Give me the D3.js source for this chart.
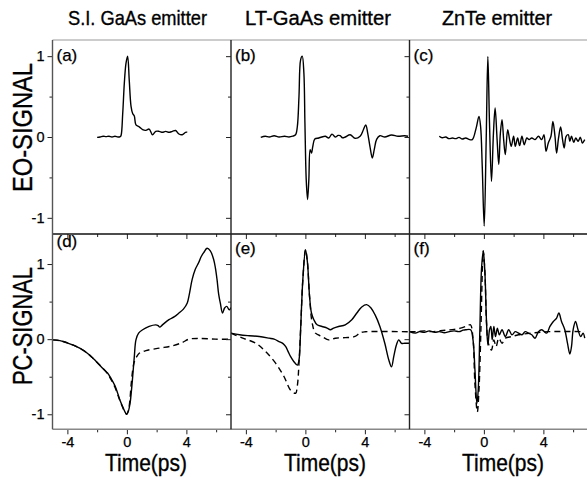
<!DOCTYPE html>
<html><head><meta charset="utf-8">
<script src="https://cdn.jsdelivr.net/npm/d3@7"></script>
<style>body{margin:0;background:#fff}text{font-family:"Liberation Sans",Arial,sans-serif;fill:#000}</style>
</head><body>
<svg id="c" width="587" height="481"></svg>
<script>
// ---------- data ----------
const emitters = ["S.I. GaAs emitter", "LT-GaAs emitter", "ZnTe emitter"];
const panelLabels = ["(a)", "(b)", "(c)", "(d)", "(e)", "(f)"];
const rowTitles = ["EO-SIGNAL", "PC-SIGNAL"];
const xTitle = "Time(ps)";
const xTickLabels = [-4, 0, 4];
const xAllTicks = [-4, -2, 0, 2, 4, 6];
const yTickLabels = [-1, 0, 1];
const yAllTicks = [-1, -0.5, 0, 0.5, 1];

// EO signals (solid) — [time ps, signal]
const eoA = [[-2.0,-0.005],[-1.8,0.0],[-1.6,0.01],[-1.4,0.005],[-1.2,0.01],[-1.0,0.0],[-0.8,0.01],[-0.6,0.0],[-0.45,0.005],[-0.39,0.02],[-0.28,0.29],[-0.17,0.67],[-0.06,0.91],[0.05,1.0],[0.16,0.7],[0.28,0.38],[0.39,0.29],[0.5,0.26],[0.61,0.15],[0.83,0.125],[1.06,0.09],[1.28,0.082],[1.5,0.098],[1.72,0.028],[1.94,0.07],[2.17,0.07],[2.39,0.058],[2.61,0.07],[2.83,0.058],[3.06,0.07],[3.28,0.08],[3.5,0.037],[3.72,0.028],[3.94,0.058],[4.06,0.06]];
const eoB = [[-3.0,-0.005],[-2.7,0.01],[-2.43,0.0],[-2.1,0.015],[-1.77,0.0],[-1.4,0.01],[-1.1,0.0],[-0.85,0.01],[-0.66,0.028],[-0.54,0.13],[-0.43,0.5],[-0.32,0.955],[-0.21,1.0],[-0.1,0.79],[-0.03,0.17],[0.057,-0.527],[0.146,-0.774],[0.233,-0.527],[0.32,-0.157],[0.41,-0.2],[0.5,-0.115],[0.633,-0.025],[0.9,-0.012],[1.1,0.0],[1.34,0.009],[1.57,-0.012],[1.79,0.036],[2.01,0.0],[2.2,0.02],[2.34,0.016],[2.5,-0.01],[2.68,0.0],[3.01,0.028],[3.34,-0.016],[3.68,0.009],[3.9,0.09],[4.06,0.15],[4.19,0.049],[4.34,-0.115],[4.5,-0.26],[4.63,-0.157],[4.79,-0.03],[5.01,0.016],[5.34,0.0],[5.79,0.025],[6.23,0.009],[6.68,0.016],[6.9,0.009]];
const eoC = [[-3.0,0.009],[-2.8,-0.01],[-2.56,0.0],[-2.35,-0.02],[-2.11,-0.012],[-1.9,-0.02],[-1.67,-0.005],[-1.45,-0.025],[-1.22,-0.012],[-1.0,-0.03],[-0.78,-0.033],[-0.52,0.11],[-0.33,0.255],[-0.22,0.13],[-0.11,-0.362],[0.022,-1.103],[0.156,-0.03],[0.267,0.995],[0.378,0.172],[0.511,-0.548],[0.644,0.05],[0.756,0.358],[0.889,-0.033],[1.0,-0.342],[1.11,0.05],[1.22,0.214],[1.33,-0.033],[1.44,-0.218],[1.6,0.09],[1.73,-0.033],[1.84,-0.115],[2.0,0.009],[2.11,-0.115],[2.27,-0.012],[2.4,-0.107],[2.56,0.009],[2.71,-0.095],[2.89,-0.012],[3.04,-0.033],[3.22,-0.012],[3.44,-0.033],[3.67,0.009],[3.89,-0.033],[4.04,0.029],[4.18,-0.177],[4.33,-0.074],[4.51,0.009],[4.64,0.193],[4.78,0.009],[4.89,-0.198],[5.02,-0.012],[5.16,0.123],[5.29,-0.033],[5.4,-0.136],[5.53,0.009],[5.67,0.029],[5.78,-0.054],[5.89,0.009],[6.04,-0.066],[6.18,-0.012],[6.33,-0.054],[6.49,-0.004],[6.62,-0.074],[6.78,-0.033]];

// PC signals: solid (measured) and dashed (calculated)
const pcD = [[-5.0,-0.01],[-4.5,-0.02],[-4.06,-0.045],[-3.6,-0.08],[-3.17,-0.12],[-2.7,-0.18],[-2.28,-0.255],[-1.95,-0.32],[-1.61,-0.39],[-1.3,-0.45],[-1.06,-0.524],[-0.8,-0.62],[-0.61,-0.725],[-0.45,-0.82],[-0.28,-0.9],[-0.12,-0.97],[-0.01,-1.0],[0.1,-0.96],[0.21,-0.86],[0.3,-0.7],[0.39,-0.5],[0.5,-0.233],[0.61,-0.01],[0.79,0.08],[1.06,0.125],[1.5,0.17],[1.94,0.19],[2.1,0.18],[2.21,0.16],[2.39,0.19],[2.83,0.26],[3.2,0.3],[3.5,0.348],[3.8,0.4],[4.06,0.482],[4.2,0.6],[4.39,0.795],[4.6,0.93],[4.83,1.02],[5.0,1.1],[5.17,1.153],[5.39,1.21],[5.61,1.176],[5.83,1.064],[5.95,0.95],[6.06,0.795],[6.17,0.6],[6.28,0.482],[6.43,0.348],[6.57,0.415],[6.72,0.437],[6.88,0.39],[7.0,0.42]];
const pcDcalc = [[-5.0,-0.01],[-4.5,-0.02],[-4.06,-0.045],[-3.6,-0.08],[-3.17,-0.12],[-2.7,-0.18],[-2.28,-0.255],[-1.95,-0.32],[-1.61,-0.39],[-1.3,-0.46],[-1.06,-0.54],[-0.8,-0.64],[-0.61,-0.74],[-0.45,-0.83],[-0.28,-0.91],[-0.12,-0.98],[-0.01,-1.0],[0.1,-0.95],[0.2,-0.82],[0.28,-0.62],[0.4,-0.4],[0.5,-0.3],[0.66,-0.233],[0.83,-0.188],[1.28,-0.152],[2.17,-0.12],[3.06,-0.09],[3.72,-0.045],[4.17,0.0],[4.83,0.01],[5.94,0.0],[7.0,0.0]];
const pcE = [[-5.0,0.08],[-4.43,0.058],[-3.77,0.045],[-3.1,0.036],[-2.43,0.013],[-2.1,0.0],[-1.77,-0.032],[-1.5,-0.06],[-1.32,-0.1],[-1.15,-0.17],[-0.99,-0.233],[-0.77,-0.3],[-0.54,-0.345],[-0.43,-0.28],[-0.32,0.125],[-0.17,0.796],[0.01,1.19],[0.14,1.02],[0.28,0.572],[0.41,0.348],[0.57,0.259],[0.79,0.191],[1.12,0.169],[1.46,0.147],[1.68,0.125],[1.9,0.147],[2.23,0.169],[2.68,0.191],[3.12,0.259],[3.46,0.348],[3.79,0.429],[4.12,0.46],[4.41,0.415],[4.68,0.326],[5.01,0.169],[5.34,-0.055],[5.61,-0.278],[5.79,-0.368],[5.94,-0.233],[6.12,-0.077],[6.28,-0.01],[6.46,-0.055],[6.68,-0.055],[7.0,-0.055]];
const pcEcalc = [[-5.0,0.08],[-4.21,0.013],[-3.32,-0.055],[-2.66,-0.167],[-1.99,-0.323],[-1.43,-0.5],[-0.99,-0.68],[-0.66,-0.72],[-0.54,-0.62],[-0.43,-0.323],[-0.32,0.125],[-0.17,0.796],[0.01,1.19],[0.14,1.02],[0.28,0.572],[0.46,0.214],[0.68,0.08],[1.12,0.036],[1.57,-0.01],[2.01,0.013],[2.68,0.02],[3.34,0.036],[3.68,0.085],[4.01,0.098],[7.0,0.098]];
const pcF = [[-5.0,0.1],[-4.6,0.08],[-4.33,0.1],[-4.0,0.09],[-3.67,0.11],[-3.3,0.09],[-3.0,0.1],[-2.66,0.085],[-2.33,0.1],[-2.0,0.11],[-1.67,0.1],[-1.4,0.12],[-1.22,0.125],[-0.89,0.125],[-0.73,-0.009],[-0.6,-0.412],[-0.47,-0.859],[-0.38,-0.68],[-0.27,0.125],[-0.16,0.93],[-0.04,1.176],[0.07,0.885],[0.18,0.214],[0.27,-0.077],[0.38,0.125],[0.47,0.17],[0.56,-0.009],[0.67,0.17],[0.78,0.035],[0.91,0.147],[1.04,0.058],[1.22,0.125],[1.44,0.035],[1.67,0.125],[1.89,0.058],[2.11,0.1],[2.33,0.08],[2.56,0.058],[2.78,0.1],[3.0,0.08],[3.22,0.058],[3.44,0.013],[3.67,0.1],[3.89,0.125],[4.22,0.08],[4.44,0.17],[4.67,0.236],[4.89,0.281],[5.04,0.348],[5.22,0.236],[5.44,0.125],[5.62,-0.054],[5.78,-0.197],[5.89,-0.1],[6.0,0.125],[6.16,0.236],[6.33,0.125],[6.51,0.035],[6.67,0.08],[6.78,0.013]];
const pcFcalc = [[-5.0,0.1],[-4.5,0.1],[-4.0,0.11],[-3.5,0.1],[-3.0,0.11],[-2.5,0.12],[-2.0,0.13],[-1.5,0.15],[-1.1,0.18],[-0.9,0.192],[-0.73,0.0],[-0.6,-0.6],[-0.44,-0.97],[-0.33,-0.68],[-0.2,0.125],[-0.1,0.93],[-0.04,1.176],[0.07,0.885],[0.18,0.214],[0.3,-0.054],[0.51,-0.144],[0.67,-0.009],[0.82,-0.1],[1.0,0.013],[1.22,-0.054],[1.44,0.013],[1.89,0.035],[2.33,0.058],[3.22,0.08],[4.33,0.1],[6.78,0.1]];

// ---------- layout ----------
const svg = d3.select("#c");
const colX = [52.5, 231, 409.5], colW = 178.5;
const rowTop = [40, 234], rowBot = [234, 429.3];
const xDomain = [-5, 7];
const yDomains = [[-1.2, 1.2], [-1.2, 1.4]];

const panels = [
  {row:0,col:0,solid:eoA},{row:0,col:1,solid:eoB},{row:0,col:2,solid:eoC},
  {row:1,col:0,solid:pcD,dash:pcDcalc},{row:1,col:1,solid:pcE,dash:pcEcalc},{row:1,col:2,solid:pcF,dash:pcFcalc}
];

const defs = svg.append("defs");

panels.forEach((p, i) => {
  const x = d3.scaleLinear().domain(xDomain).range([colX[p.col], colX[p.col] + colW]);
  const y = d3.scaleLinear().domain(yDomains[p.row]).range([rowBot[p.row], rowTop[p.row]]);
  const cid = "clip" + i;
  defs.append("clipPath").attr("id", cid).append("rect")
    .attr("x", colX[p.col]).attr("y", rowTop[p.row])
    .attr("width", colW).attr("height", rowBot[p.row] - rowTop[p.row]);
  const line = d3.line().curve(d3.curveCatmullRom.alpha(0.5)).x(d => x(d[0])).y(d => y(d[1]));
  const g = svg.append("g").attr("clip-path", `url(#${cid})`);
  if (p.dash) g.append("path").datum(p.dash).attr("d", line)
      .attr("fill", "none").attr("stroke", "#000").attr("stroke-width", 1.4)
      .attr("stroke-dasharray", "6,4");
  g.append("path").datum(p.solid).attr("d", line)
      .attr("fill", "none").attr("stroke", "#000").attr("stroke-width", 1.4)
      .attr("stroke-linejoin", "round");

  // y axis (left, outward ticks)
  const ya = d3.axisLeft(y).tickValues(yAllTicks).tickSizeOuter(0)
    .tickSize(4).tickPadding(4)
    .tickFormat(d => (p.col === 0 && yTickLabels.includes(d)) ? String(d) : "");
  const yg = svg.append("g").attr("transform", `translate(${colX[p.col]},0)`).call(ya);
  yg.select(".domain").remove();
  yg.selectAll(".tick line").attr("stroke", "#222").attr("stroke-width", 1)
    .attr("x2", d => Number.isInteger(d) ? -5 : -3);
  yg.selectAll(".tick text").style("font-size", "14.5px").style("font-family", "Liberation Sans, Arial")
    .attr("stroke", "#000").attr("stroke-width", 0.25);

  // x axis (bottom, outward ticks)
  const xa = d3.axisBottom(x).tickValues(xAllTicks).tickSizeOuter(0)
    .tickSize(4).tickPadding(3)
    .tickFormat(d => (p.row === 1 && xTickLabels.includes(d)) ? String(d) : "");
  const xg = svg.append("g").attr("transform", `translate(0,${rowBot[p.row]})`).call(xa);
  xg.select(".domain").remove();
  xg.selectAll(".tick line").attr("stroke", "#222").attr("stroke-width", 1)
    .attr("y2", d => xTickLabels.includes(d) ? 5 : 3);
  xg.selectAll(".tick text").style("font-size", "14.5px").style("font-family", "Liberation Sans, Arial")
    .attr("stroke", "#000").attr("stroke-width", 0.25);

  // panel label
  svg.append("text").attr("x", colX[p.col] + 4)
    .attr("y", p.row === 0 ? 61 : (p.col === 0 ? 247 : 254))
    .style("font-size", "17px").attr("stroke", "#000").attr("stroke-width", 0.25)
    .text(panelLabels[i]);
});

// frame lines
const frame = svg.append("g").attr("fill", "none");
frame.append("line").attr("x1", colX[0]).attr("x2", 587).attr("y1", 40).attr("y2", 40)
  .attr("stroke", "#999").attr("stroke-width", 1);
frame.append("line").attr("x1", colX[0]).attr("x2", 587).attr("y1", 234).attr("y2", 234)
  .attr("stroke", "#111").attr("stroke-width", 1.4);
frame.append("line").attr("x1", colX[0]).attr("x2", 587).attr("y1", 429.3).attr("y2", 429.3)
  .attr("stroke", "#888").attr("stroke-width", 1.4);
colX.forEach((cx, k) => {
  frame.append("line").attr("x1", cx).attr("x2", cx).attr("y1", 40).attr("y2", 429.3)
    .attr("stroke", k === 0 ? "#555" : "#222").attr("stroke-width", 1.4);
});

// column titles
const titleX = [137.5, 318, 497], titleW = [139, 146, 110];
emitters.forEach((t, k) => {
  svg.append("text").attr("x", titleX[k]).attr("y", 25).attr("text-anchor", "middle")
    .style("font-size", "21px").attr("textLength", titleW[k]).attr("lengthAdjust", "spacingAndGlyphs")
    .attr("stroke", "#000").attr("stroke-width", 0.35)
    .text(t);
});

// row titles
const rowCY = [127.5, 326], rowLen = [129, 118];
rowTitles.forEach((t, r) => {
  svg.append("text").attr("transform", `translate(32,${rowCY[r]}) rotate(-90)`)
    .attr("text-anchor", "middle").style("font-size", "27px")
    .attr("stroke", "#000").attr("stroke-width", 0.35)
    .attr("textLength", rowLen[r]).attr("lengthAdjust", "spacingAndGlyphs").text(t);
});

// x titles
const xTitleCX = [146, 325, 503];
xTitleCX.forEach(cx => {
  svg.append("text").attr("x", cx).attr("y", 471).attr("text-anchor", "middle")
    .style("font-size", "24px").attr("textLength", 82).attr("lengthAdjust", "spacingAndGlyphs")
    .attr("stroke", "#000").attr("stroke-width", 0.35)
    .text(xTitle);
});
</script>
</body></html>
